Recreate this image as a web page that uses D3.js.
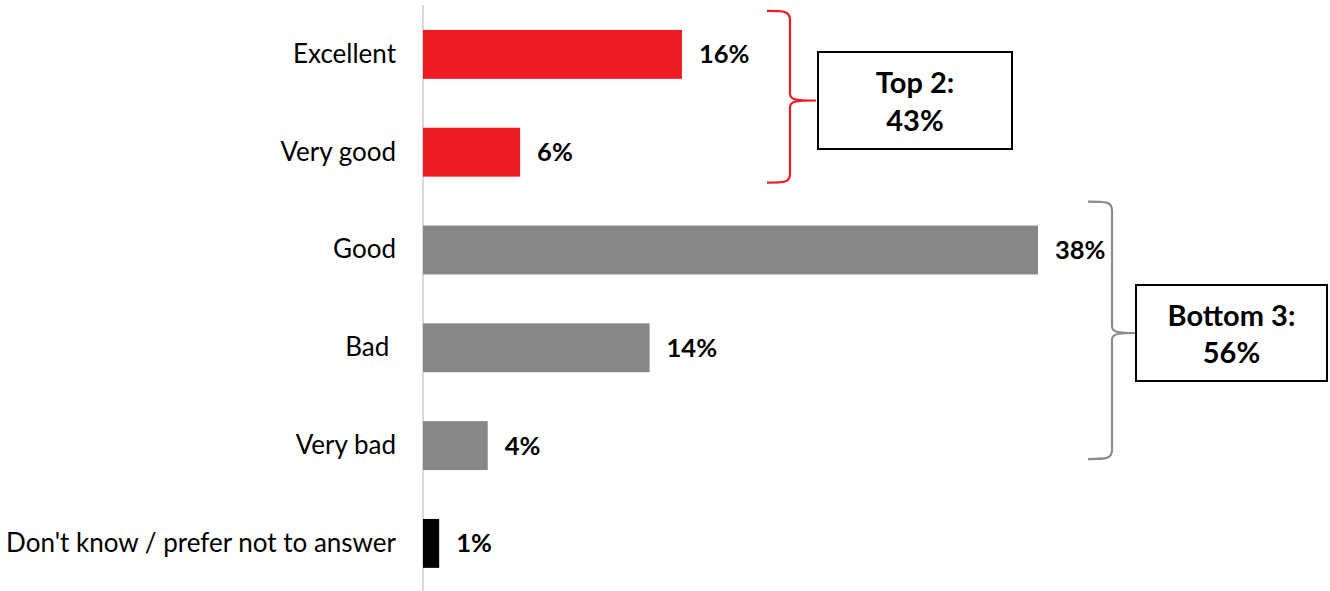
<!DOCTYPE html>
<html>
<head>
<meta charset="utf-8">
<script src="https://cdn.jsdelivr.net/npm/d3@7"></script>
<style>
  html, body { margin: 0; padding: 0; background: #fff; }
  svg { display: block; }
  text { font-family: Lato, "Open Sans", sans-serif; }
</style>
</head>
<body>
<svg id="chart" width="1330" height="591"></svg>
<script>
// Survey answers and their share of respondents (%)
const categories = ["Excellent", "Very good", "Good", "Bad ", "Very bad", "Don't know / prefer not to answer"];
const values = [16, 6, 38, 14, 4, 1];
const barColors = ["#ED1C24", "#ED1C24", "#878787", "#878787", "#878787", "#000000"];

// Grouped totals shown beside the braces
const groupNames = ["Top 2:", "Bottom 3:"];
const groupTotals = [43, 56];
const groupColors = ["#ED1C24", "#8C8C8C"];

const svg = d3.select("#chart");

const x = d3.scaleLinear().domain([0, 38]).range([423, 1038]);
const y = d3.scaleBand().domain(categories).range([5.5, 592.3]).paddingInner(0.5).paddingOuter(0.25);

// Category axis (left, vertical rule only)
const yAxis = d3.axisLeft(y).tickSize(0).tickPadding(27);
const gy = svg.append("g").attr("transform", `translate(${x(0)},0)`).call(yAxis);
gy.select(".domain").attr("stroke", "#D9D9D9").attr("stroke-width", 2)
  .attr("d", `M0,5V591`);
gy.selectAll(".tick text")
  .attr("font-family", "Lato, sans-serif")
  .attr("font-size", 26)
  .attr("fill", "#000")
  .style("white-space", "pre");

// Bars
svg.append("g").selectAll("rect")
  .data(categories)
  .join("rect")
  .attr("x", x(0))
  .attr("y", d => y(d))
  .attr("width", (d, i) => x(values[i]) - x(0))
  .attr("height", y.bandwidth())
  .attr("fill", (d, i) => barColors[i]);

// Value labels
svg.append("g").selectAll("text")
  .data(categories)
  .join("text")
  .attr("x", (d, i) => x(values[i]) + 17)
  .attr("y", d => y(d) + y.bandwidth() / 2)
  .attr("dy", "0.35em")
  .attr("font-size", 25.5)
  .attr("font-weight", "bold")
  .attr("fill", "#000")
  .text((d, i) => values[i] + "%");

// Curly brace: opening edge at x0, spine at x1, point at x2, from yTop to yBot with point at yMid
function brace(x0, x1, x2, yTop, yMid, yBot) {
  const r = 5;
  return `M${x0},${yTop}` +
    `C${x1 - 6},${yTop} ${x1},${yTop} ${x1},${yTop + r + 4}` +
    `V${yMid - r - 2}` +
    `C${x1},${yMid - 1} ${x1 + 4},${yMid} ${x2},${yMid}` +
    `M${x1},${yMid + r + 2}` +
    `C${x1},${yMid + 1} ${x1 + 4},${yMid} ${x2},${yMid}` +
    `M${x1},${yMid + r + 2}` +
    `V${yBot - r - 4}` +
    `C${x1},${yBot} ${x1 - 6},${yBot} ${x0},${yBot}`;
}

const braces = [
  { x0: 767, x1: 790, x2: 816, top: y("Excellent") - 19, bot: y("Very good") + y.bandwidth() + 6,
    box: { x: 818, y: 52, w: 194, h: 97 } },
  { x0: 1088, x1: 1112, x2: 1137, top: y("Good") - 24, bot: y("Very bad") + y.bandwidth() - 11,
    box: { x: 1136, y: 285, w: 191, h: 96 } }
];

braces.forEach((b, i) => {
  const mid = b.box.y + b.box.h / 2;
  svg.append("path")
    .attr("d", brace(b.x0, b.x1, b.x2, b.top, mid, b.bot))
    .attr("fill", "none")
    .attr("stroke", groupColors[i])
    .attr("stroke-width", 2.2);
  svg.append("rect")
    .attr("x", b.box.x).attr("y", b.box.y)
    .attr("width", b.box.w).attr("height", b.box.h)
    .attr("fill", "#fff").attr("stroke", "#000").attr("stroke-width", 2);
  const t = svg.append("text")
    .attr("text-anchor", "middle")
    .attr("font-size", 29)
    .attr("font-weight", "bold")
    .attr("fill", "#000");
  t.append("tspan").attr("x", b.box.x + b.box.w / 2).attr("y", mid - 7.5).text(groupNames[i]);
  t.append("tspan").attr("x", b.box.x + b.box.w / 2).attr("y", mid + 30).text(groupTotals[i] + "%");
});
</script>
</body>
</html>
